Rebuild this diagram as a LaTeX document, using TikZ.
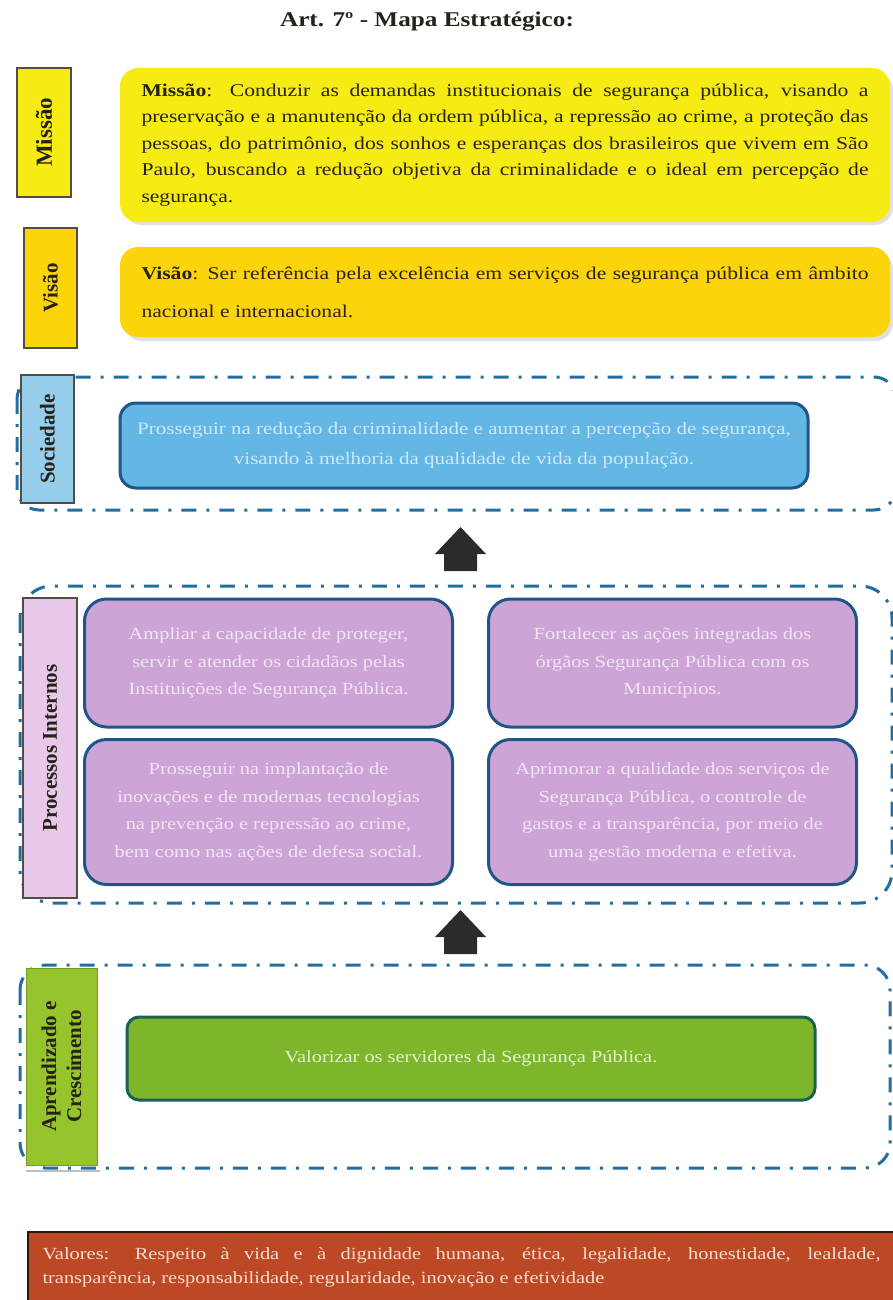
\documentclass[tikz,border=0pt]{standalone}
\usepackage{fontspec}
\setmainfont{Liberation Serif}[FakeStretch=1.2]
\newfontfamily\lblfont{Liberation Serif}
\definecolor{yel}{RGB}{246,236,20}
\definecolor{gold}{RGB}{252,212,10}
\definecolor{dashc}{RGB}{35,110,160}
\definecolor{sblue}{RGB}{100,182,228}
\definecolor{sbluel}{RGB}{150,205,235}
\definecolor{sbluetxt}{RGB}{205,232,247}
\definecolor{bord}{RGB}{32,85,135}
\definecolor{lav}{RGB}{204,165,214}
\definecolor{lavl}{RGB}{232,200,232}
\definecolor{lavtxt}{RGB}{242,228,245}
\definecolor{lime}{RGB}{150,196,45}
\definecolor{grn}{RGB}{125,182,42}
\definecolor{grnb}{RGB}{28,95,85}
\definecolor{grntxt}{RGB}{228,240,208}
\definecolor{brick}{RGB}{188,72,38}
\definecolor{bricktxt}{RGB}{246,222,208}
\definecolor{arr}{RGB}{42,44,44}
\definecolor{ink}{RGB}{38,34,25}
\hyphenpenalty=10000
\exhyphenpenalty=10000
\begin{document}
\begin{tikzpicture}[x=1pt,y=-1pt,
  lbl/.style={rotate=90, draw=ink!80, line width=1.2pt, inner sep=0pt,
    font=\lblfont\fontsize{21}{25}\selectfont\bfseries, text=ink, align=center},
  ybox/.style={rounded corners=18pt, inner sep=0pt, text=ink},
  shadowc/.style={fill=black!12, rounded corners=18pt},
  container/.style={draw=dashc, line width=3pt, rounded corners=25pt,
    dash pattern=on 15pt off 10pt on 3pt off 10pt},
  obox/.style={line width=3pt, rounded corners=16pt, inner sep=0pt, align=center},
  pbox/.style={obox, draw=bord, fill=lav, rounded corners=22pt, text=lavtxt,
    minimum width=368pt, font=\fontsize{17}{27.5}\selectfont},
  blockarrow/.style={fill=arr}
]
\useasboundingbox (0,0) rectangle (893,1300);

% title
\node[font=\fontsize{21}{24}\selectfont\bfseries, text=ink] (title) at (427,22) {Art. 7º - Mapa Estratégico:};

% Missao
\fill[shadowc] (124,72) rectangle (893,225);
\node[ybox, fill=yel, minimum width=770pt, minimum height=154pt, text width=727pt,
  align=justify, font=\fontsize{18}{26.5}\selectfont] (missao) at (505,145)
  {\textbf{Missão}: Conduzir as demandas institucionais de segurança pública, visando a\linebreak preservação e a manutenção da ordem pública, a repressão ao crime, a proteção das\linebreak pessoas, do patrimônio, dos sonhos e esperanças dos brasileiros que vivem em São\linebreak Paulo, buscando a redução objetiva da criminalidade e o ideal em percepção de\linebreak segurança.};
\node[lbl, fill=yel, minimum width=129pt, minimum height=54pt, font=\lblfont\fontsize{23}{25}\selectfont\bfseries] (lmissao) at (44,132.5) {Missão};

% Visao
\fill[shadowc] (124,251) rectangle (893,341);
\node[ybox, fill=gold, minimum width=770pt, minimum height=90pt, text width=727pt,
  align=justify, font=\fontsize{18}{38}\selectfont] (visao) at (505,292)
  {\textbf{Visão}: Ser referência pela excelência em serviços de segurança pública em âmbito\linebreak nacional e internacional.};
\node[lbl, fill=gold, minimum width=120pt, minimum height=53pt] (lvisao) at (50.5,288) {Visão};

% Sociedade
\draw[container, rounded corners=22pt] (17,377) rectangle (896,510);
\node[lbl, fill=sbluel, minimum width=128pt, minimum height=53pt] (lsoc) at (47.5,439) {Sociedade};
\node[obox, draw=bord, fill=sblue, minimum width=688pt, minimum height=85pt, text=sbluetxt,
  font=\fontsize{17.5}{30}\selectfont] (soc) at (464,445.5)
  {Prosseguir na redução da criminalidade e aumentar a percepção de segurança,\\visando à melhoria da qualidade de vida da população.};

% arrow 1
\fill[blockarrow] (444,571) -- (444,554) -- (435,554) -- (460.5,527) -- (486,554) -- (477,554) -- (477,571) -- cycle;

% Processos
\draw[container, rounded corners=32pt] (20,586) rectangle (892,903);
\node[lbl, fill=lavl, minimum width=300pt, minimum height=54pt] (lproc) at (50,748) {Processos Internos};
\node[pbox, minimum height=128pt] (p1) at (268.5,663)
  {Ampliar a capacidade de proteger,\\servir e atender os cidadãos pelas\\Instituições de Segurança Pública.};
\node[pbox, minimum height=145pt] (p2) at (268.5,812)
  {Prosseguir na implantação de\\inovações e de modernas tecnologias\\na prevenção e repressão ao crime,\\bem como nas ações de defesa social.};
\node[pbox, minimum height=128pt] (p3) at (672.5,663)
  {Fortalecer as ações integradas dos\\órgãos Segurança Pública com os\\Municípios.};
\node[pbox, minimum height=145pt] (p4) at (672.5,812)
  {Aprimorar a qualidade dos serviços de\\Segurança Pública, o controle de\\gastos e a transparência, por meio de\\uma gestão moderna e efetiva.};

% arrow 2
\fill[blockarrow] (444,954) -- (444,937) -- (435,937) -- (460.5,910) -- (486,937) -- (477,937) -- (477,954) -- cycle;

% Aprendizado
\draw[container] (20,965) rectangle (890,1168);
\draw[black!25, line width=1.5pt] (26,1171) -- (100,1171);
\node[lbl, draw=lime!80!black, line width=0.6pt, fill=lime, minimum width=197pt, minimum height=71pt] (lapr) at (61.5,1066.5) {Aprendizado e\\Crescimento};
\node[obox, draw=grnb, fill=grn, rounded corners=12pt, minimum width=688pt, minimum height=83pt, text=grntxt,
  font=\fontsize{17}{24}\selectfont] (apr) at (471,1058.5)
  {Valorizar os servidores da Segurança Pública.};

% Valores
\node[draw=black!75!brick, line width=2pt, fill=brick, minimum width=867pt, minimum height=71pt,
  inner sep=0pt, text width=838pt, align=justify, text=bricktxt,
  font=\fontsize{17}{24}\selectfont] (valores) at (461.5,1267)
  {Valores: Respeito à vida e à dignidade humana, ética, legalidade, honestidade, lealdade,\linebreak transparência, responsabilidade, regularidade, inovação e efetividade};
\end{tikzpicture}
\end{document}
